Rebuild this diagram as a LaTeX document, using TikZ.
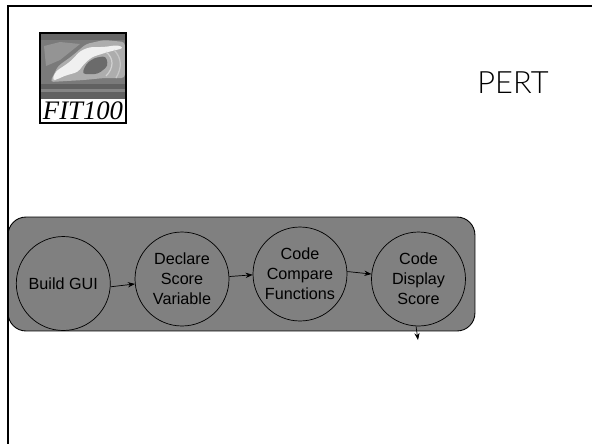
\documentclass[tikz,border=0pt]{standalone}
\usepackage{fontspec}
\setmainfont{Liberation Sans}
\newfontfamily\titlefont{Lato Light}
\newfontfamily\logofont{Liberation Serif}
\usetikzlibrary{arrows.meta}

\begin{document}
\begin{tikzpicture}[
    x=0.02cm, y=-0.02cm,
    every node/.style={font=\fontsize{9.2}{11.34}\selectfont},
    task/.style={
        draw,
        circle,
        align=center,
        minimum size=1.88cm,
        inner sep=0pt,
        line width=0.4pt
    },
    panel/.style={
        draw,
        rounded corners=0.36cm,
        fill=black!50,
        minimum width=9.34cm,
        minimum height=2.28cm,
        inner sep=0pt,
        line width=0.5pt
    },
    arrow/.style={-{Stealth[length=4pt,width=3pt]}, line width=0.4pt},
    crest/.style={draw=none, rounded corners=2pt}
]
\useasboundingbox (0,0) rectangle (592,444);

% logo
\node[draw=none, fill=black!52, minimum width=1.68cm, minimum height=1.3cm, inner sep=0pt] (wave) at (83,66.5) {};
\fill[black!60] (41,34) rectangle (125,40);
\fill[black!42] (44,46) -- (60,42) -- (80,44) -- (60,60) -- (46,66) -- cycle;
\fill[black!62] (41,84) rectangle (125,99);
\fill[black!48] (41,89) rectangle (125,92);
\fill[crest, black!32] (50,82) -- (58,66) -- (72,56) -- (86,44) -- (104,40) -- (125,42) -- (125,78) -- (104,78) -- (84,80) -- cycle;
\fill[crest, black!6] (52,80) -- (56,71) -- (64,66) -- (72,60) -- (80,51) -- (90,47) -- (104,47) -- (118,45) -- (124,48) -- (108,52) -- (92,57) -- (84,64) -- (78,72) -- (64,76) -- (56,80) -- cycle;
\fill[crest, black!58] (82,74) -- (86,64) -- (94,58) -- (106,56) -- (108,66) -- (98,74) -- cycle;
\draw[black!18, line width=0.7pt] (106,52) .. controls (114,58) and (114,68) .. (106,76);
\draw[black!22, line width=0.7pt] (114,50) .. controls (122,58) and (122,68) .. (116,78);
\node[fill=white, minimum width=1.68cm, minimum height=0.44cm, inner sep=0pt, text=black,
      font=\logofont\itshape\fontsize{15.2}{15.2}\selectfont] (logotext) at (83,111) {FIT100};
\draw[line width=1.2pt] (40,33) rectangle (126,123);

% title
\node[font=\titlefont\fontsize{17.5}{17.5}\selectfont] (title) at (513,82.5) {PERT};

% panel
\node[panel] (group) at (241.5,274) {};

% frame
\draw[line width=1.6pt] (592,6) -- (8,6) -- (8,444);

% tasks
\node[task] (gui) at (63.3,283.5) {Build GUI};
\node[task] (var) at (182,279) {Declare\\Score\\Variable};
\node[task] (cmp) at (300,274) {Code\\Compare\\Functions};
\node[task] (disp) at (418.5,279) {Code\\Display\\Score};
\coordinate (next) at (418,340);

% arrows
\draw[arrow] (gui.-4) -- (var.186);
\draw[arrow] (var.3) -- (cmp.181);
\draw[arrow] (cmp.3) -- (disp.174);
\draw[arrow] (disp.-93) -- (next);
\end{tikzpicture}
\end{document}
